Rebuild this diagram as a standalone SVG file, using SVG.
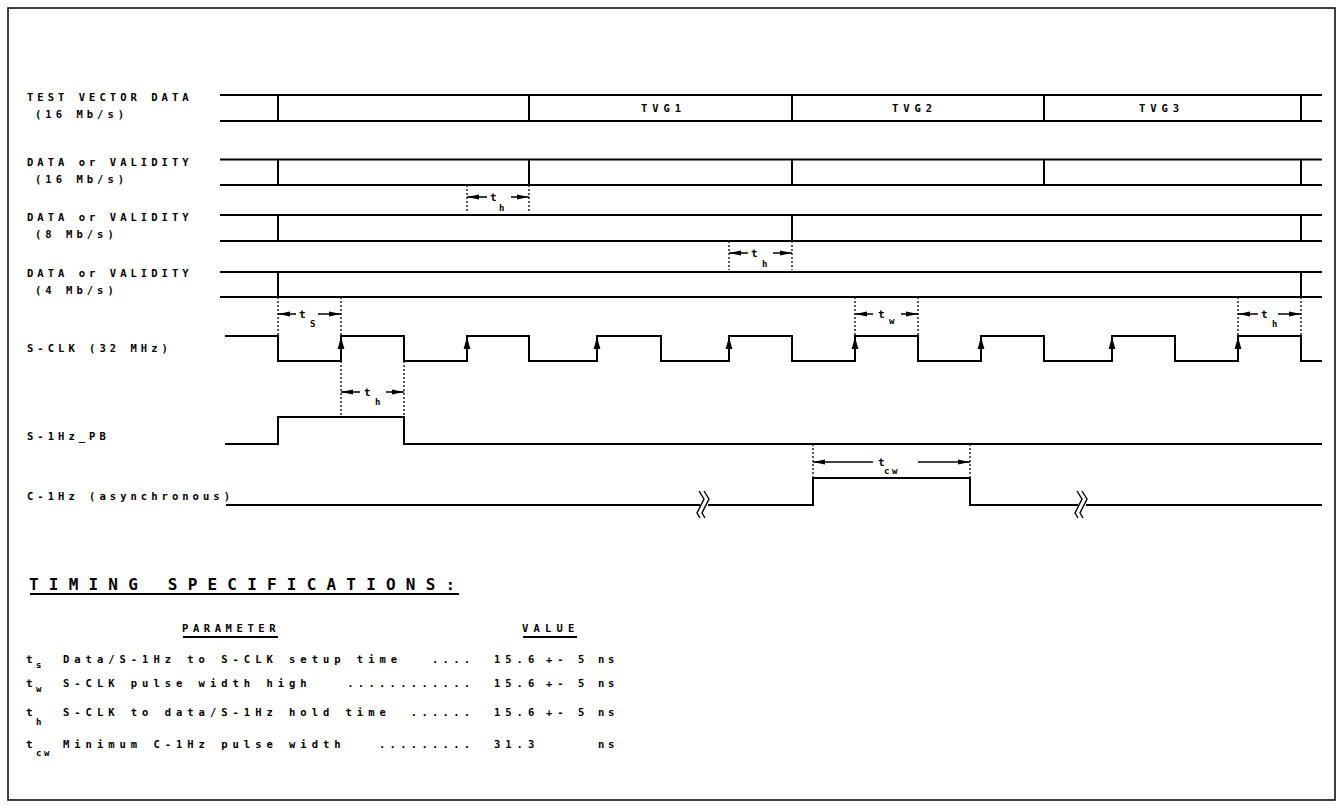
<svg xmlns="http://www.w3.org/2000/svg" width="1342" height="810" viewBox="0 0 1342 810">
<style>
.w{fill:none;stroke:#000;stroke-width:2}
.d{fill:none;stroke:#000;stroke-width:1.3;stroke-dasharray:2 2}
.a{fill:none;stroke:#000;stroke-width:1.5;marker-end:url(#ah)}
text{font-family:'DejaVu Sans Mono','Liberation Mono',monospace;font-weight:bold;fill:#000}
.l{font-size:10.5px;letter-spacing:4.03px}
.tv{font-size:10.5px;letter-spacing:4.9px}
.t{font-size:11px}
.s{font-size:9px;letter-spacing:2.5px}
.tb{font-size:10.5px;letter-spacing:4.98px}
.dt{font-size:10.5px;letter-spacing:4.28px}
.ti{font-size:16px;letter-spacing:10.2px}
.ul{stroke:#000;stroke-width:2}
</style>
<defs>
<marker id="ah" viewBox="0 0 12 6" refX="12" refY="3" markerWidth="12" markerHeight="6" markerUnits="userSpaceOnUse" orient="auto">
<path d="M0,0.5 L12,3 L0,5.5 z" fill="#000"/>
</marker>
<path id="brk" d="M-5,-14 L0,-6 L-7,8 L-4,13 M0,-14 L5,-6 L-2,8 L1,13" fill="none" stroke="#000" stroke-width="1.4"/>
<path id="up" d="M0,0 L3.4,12 L-3.4,12 z" fill="#000"/>
</defs>
<rect x="8" y="8" width="1327" height="792" fill="#fff" stroke="#000" stroke-width="1.5"/>

<g id="tvd">
<text class="l" x="27" y="101">TEST VECTOR DATA</text>
<text class="l" x="35" y="118">(16 Mb/s)</text>
<path class="w" d="M220,95 H1322 M220,121 H1322 M278,95 V121 M529,95 V121 M792,95 V121 M1044,95 V121 M1301,95 V121"/>
<text class="tv" x="641" y="111.5">TVG1</text>
<text class="tv" x="892" y="111.5">TVG2</text>
<text class="tv" x="1139" y="111.5">TVG3</text>
</g>
<g id="dv16">
<text class="l" x="27" y="166">DATA or VALIDITY</text>
<text class="l" x="35" y="183">(16 Mb/s)</text>
<path class="w" d="M220,159.5 H1322 M220,185 H1322 M278,159.5 V185 M529,159.5 V185 M792,159.5 V185 M1044,159.5 V185 M1301,159.5 V185"/>
</g>
<g id="dv8">
<text class="l" x="27" y="221">DATA or VALIDITY</text>
<text class="l" x="35" y="238">(8 Mb/s)</text>
<path class="w" d="M220,215 H1322 M220,241 H1322 M278,215 V241 M792,215 V241 M1301,215 V241"/>
</g>
<g id="dv4">
<text class="l" x="27" y="277">DATA or VALIDITY</text>
<text class="l" x="35" y="294">(4 Mb/s)</text>
<path class="w" d="M220,272 H1322 M220,297 H1322 M278,272 V297 M1301,272 V297"/>
</g>
<g id="sclk">
<text class="l" x="27" y="352">S-CLK (32 MHz)</text>
<path class="w" d="M225,336 H278 V361 H341 V336 H404 V361 H467 V336 H529 V361 H597 V336 H661 V361 H729 V336 H792 V361 H855 V336 H918 V361 H981 V336 H1044 V361 H1112 V336 H1175 V361 H1238 V336 H1301 V361 H1322"/>
<use href="#up" x="341" y="337"/>
<use href="#up" x="467" y="337"/>
<use href="#up" x="597" y="337"/>
<use href="#up" x="729" y="337"/>
<use href="#up" x="855" y="337"/>
<use href="#up" x="981" y="337"/>
<use href="#up" x="1112" y="337"/>
<use href="#up" x="1238" y="337"/>
</g>
<g id="s1hz">
<text class="l" x="27" y="440">S-1Hz_PB</text>
<path class="w" d="M225,444 H278 V417 H404 V444 H1322"/>
</g>
<g id="c1hz">
<text class="l" x="27" y="500">C-1Hz (asynchronous)</text>
<path class="w" d="M226,505 H700 M708,505 H813 V478 H970 V505 H1078 M1086,505 H1322"/>
<use href="#brk" x="704" y="505"/>
<use href="#brk" x="1082" y="505"/>
</g>

<g id="connectors">
<path class="d" d="M467,185 V213 M529,185 V213"/>
<path class="a" d="M487,197 H467"/><path class="a" d="M511,197 H529"/>
<text class="t" x="490" y="201">t</text><text class="s" x="499" y="211">h</text>

<path class="d" d="M729,241 V270 M792,241 V270"/>
<path class="a" d="M748,253 H729"/><path class="a" d="M773,253 H792"/>
<text class="t" x="751" y="257">t</text><text class="s" x="762" y="267">h</text>

<path class="d" d="M278,297 V336 M341,297 V336"/>
<path class="a" d="M296,314 H278"/><path class="a" d="M318,314 H341"/>
<text class="t" x="299" y="318">t</text><text class="s" x="310" y="327">S</text>

<path class="d" d="M341,361 V417 M404,361 V417"/>
<path class="a" d="M360,392 H341"/><path class="a" d="M386,392 H404"/>
<text class="t" x="364" y="396">t</text><text class="s" x="375" y="405">h</text>

<path class="d" d="M855,297 V336 M918,297 V336"/>
<path class="a" d="M873,314 H855"/><path class="a" d="M901,314 H918"/>
<text class="t" x="878" y="318">t</text><text class="s" x="889" y="324">w</text>

<path class="d" d="M1238,297 V336 M1301,297 V336"/>
<path class="a" d="M1258,314 H1238"/><path class="a" d="M1278,314 H1301"/>
<text class="t" x="1261" y="318">t</text><text class="s" x="1272" y="327">h</text>

<path class="d" d="M813,444 V478 M970,444 V478"/>
<path class="a" d="M873,462 H813"/><path class="a" d="M918,462 H970"/>
<text class="t" x="878" y="466">t</text><text class="s" x="884" y="474">cw</text>
</g>

<g id="specs">
<text class="ti" x="29" y="590">TIMING SPECIFICATIONS:</text>
<line class="ul" x1="30" y1="594" x2="459" y2="594"/>
<text class="tb" x="182" y="632" style="letter-spacing:4.58px">PARAMETER</text>
<line class="ul" x1="183" y1="637" x2="278" y2="637"/>
<text class="tb" x="522" y="632" style="letter-spacing:5.18px">VALUE</text>
<line class="ul" x1="523" y1="637" x2="577" y2="637"/>

<text class="t" x="26" y="663">t</text><text class="s" x="36" y="668">s</text>
<text class="tb" x="63" y="663">Data/S-1Hz to S-CLK setup time</text>
<text class="dt" x="432" y="663">....</text>
<text class="tb" x="494" y="663">15.6</text><text class="tb" x="546" y="663">+-</text><text class="tb" x="578" y="663">5</text><text class="tb" x="598" y="663" style="letter-spacing:3.8px">ns</text>

<text class="t" x="26" y="687">t</text><text class="s" x="36" y="692">w</text>
<text class="tb" x="63" y="687">S-CLK pulse width high</text>
<text class="dt" x="347.2" y="687">............</text>
<text class="tb" x="494" y="687">15.6</text><text class="tb" x="546" y="687">+-</text><text class="tb" x="578" y="687">5</text><text class="tb" x="598" y="687" style="letter-spacing:3.8px">ns</text>

<text class="t" x="26" y="716">t</text><text class="s" x="36" y="725">h</text>
<text class="tb" x="63" y="716">S-CLK to data/S-1Hz hold time</text>
<text class="dt" x="410.8" y="716">......</text>
<text class="tb" x="494" y="716">15.6</text><text class="tb" x="546" y="716">+-</text><text class="tb" x="578" y="716">5</text><text class="tb" x="598" y="716" style="letter-spacing:3.8px">ns</text>

<text class="t" x="26" y="748">t</text><text class="s" x="36" y="756">cw</text>
<text class="tb" x="63" y="748">Minimum C-1Hz pulse width</text>
<text class="dt" x="379" y="748">.........</text>
<text class="tb" x="494" y="748">31.3</text><text class="tb" x="598" y="748" style="letter-spacing:3.8px">ns</text>
</g>
</svg>
